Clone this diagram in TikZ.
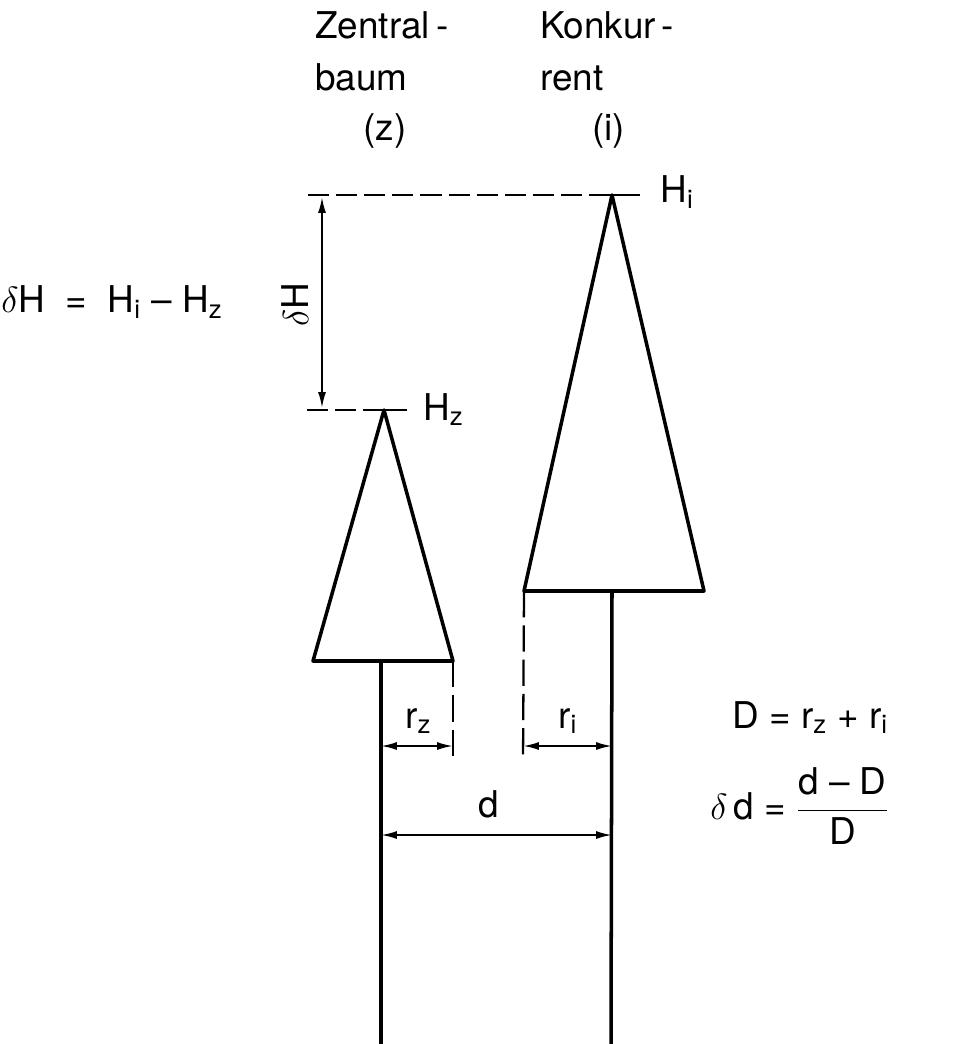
\documentclass[tikz,border=0pt]{standalone}
\usepackage{fontspec}
\setsansfont{TeX Gyre Heros}
\usetikzlibrary{arrows.meta}
\begin{document}
\begin{tikzpicture}[x=0.02cm, y=-0.02cm,
    font=\sffamily\fontsize{21}{25}\selectfont,
    tree/.style={line width=2pt, line join=round},
    guide/.style={line width=1.3pt, dash pattern=on 12pt off 4pt},
    vguide/.style={line width=1.3pt, dash pattern=on 15pt off 4.5pt},
    dim/.style={line width=1.1pt,
                {Latex[length=9pt,width=4.5pt]}-{Latex[length=9pt,width=4.5pt]}},
    lbl/.style={inner sep=0pt, anchor=base west},
  ]
  \useasboundingbox (0,0) rectangle (965,1044);

  % Zentralbaum (z)
  \coordinate (zTop)  at (384,410);
  \coordinate (zBL)   at (313,661);
  \coordinate (zBR)   at (453,661);
  \coordinate (zFoot) at (381,661);
  \coordinate (zEnd)  at (381,1044);
  \draw[tree] (zTop) -- (zBL) -- (zBR) -- cycle;
  \draw[tree] (zFoot) -- (zEnd);

  % Konkurrent (i)
  \coordinate (iTop)  at (612,195);
  \coordinate (iBL)   at (524,591);
  \coordinate (iBR)   at (704,591);
  \coordinate (iFoot) at (612,591);
  \coordinate (iEnd)  at (611,1044);
  \draw[tree] (iTop) -- (iBL) -- (iBR) -- cycle;
  \draw[tree] (iFoot) -- (iEnd);

  % Hoehenlinien
  \coordinate (hiL) at (308,195);
  \coordinate (hiS) at (598,195);
  \coordinate (hiR) at (640,195);
  \coordinate (hzL) at (307,410);
  \coordinate (hzS) at (370,410);
  \coordinate (hzR) at (407,410);
  \draw[guide] (hiL) -- (hiS);
  \draw[line width=1.3pt] (hiS) -- (hiR);
  \draw[guide] (hzL) -- (hzS);
  \draw[line width=1.3pt] (hzS) -- (hzR);
  \node[lbl] (Hi) at (660,203) {H\textsubscript{i}};
  \node[lbl] (Hz) at (423,420) {H\textsubscript{z}};

  % delta H
  \coordinate (dhT) at (322,197);
  \coordinate (dhB) at (322,408);
  \draw[dim] (dhT) -- (dhB);
  \node[rotate=90, inner sep=0pt] (dH) at (295,305) {$\delta$H};
  \node[inner sep=0pt] (dHeq) at (112,302)
    {$\delta$H~~=~~H\textsubscript{i} -- H\textsubscript{z}};

  % Kronenradien
  \coordinate (rzE) at (453,762);
  \coordinate (riE) at (523,762);
  \draw[vguide] (zBR) -- (rzE);
  \draw[vguide] (iBL) -- (riE);
  \coordinate (rzA) at (381,746);
  \coordinate (rzB) at (453,746);
  \coordinate (riA) at (523,746);
  \coordinate (riB) at (612,746);
  \draw[dim] (rzA) -- (rzB);
  \draw[dim] (riA) -- (riB);
  \node[lbl] (rz) at (405,728) {r\textsubscript{z}};
  \node[lbl] (ri) at (558,728) {r\textsubscript{i}};

  % Abstand d
  \coordinate (dA) at (381,835);
  \coordinate (dB) at (612,835);
  \draw[dim] (dA) -- (dB);
  \node[lbl] (d) at (478,817) {d};

  % Formeln
  \node[lbl] (Deq) at (732,728) {D = r\textsubscript{z} + r\textsubscript{i}};
  \node[inner sep=0pt, anchor=west] (ddeq) at (710,806)
    {$\delta$\,d = $\displaystyle\frac{\mbox{d -- D}}{\mbox{D}}$};

  % Titel
  \node[lbl] (zt1) at (315,39) {Zentral\,-};
  \node[lbl] (zt2) at (315,91) {baum};
  \node[lbl] (zt3) at (363,141) {(z)};
  \node[lbl] (it1) at (540,39) {Konkur\,-};
  \node[lbl] (it2) at (540,91) {rent};
  \node[lbl] (it3) at (592,141) {(i)};
\end{tikzpicture}
\end{document}
